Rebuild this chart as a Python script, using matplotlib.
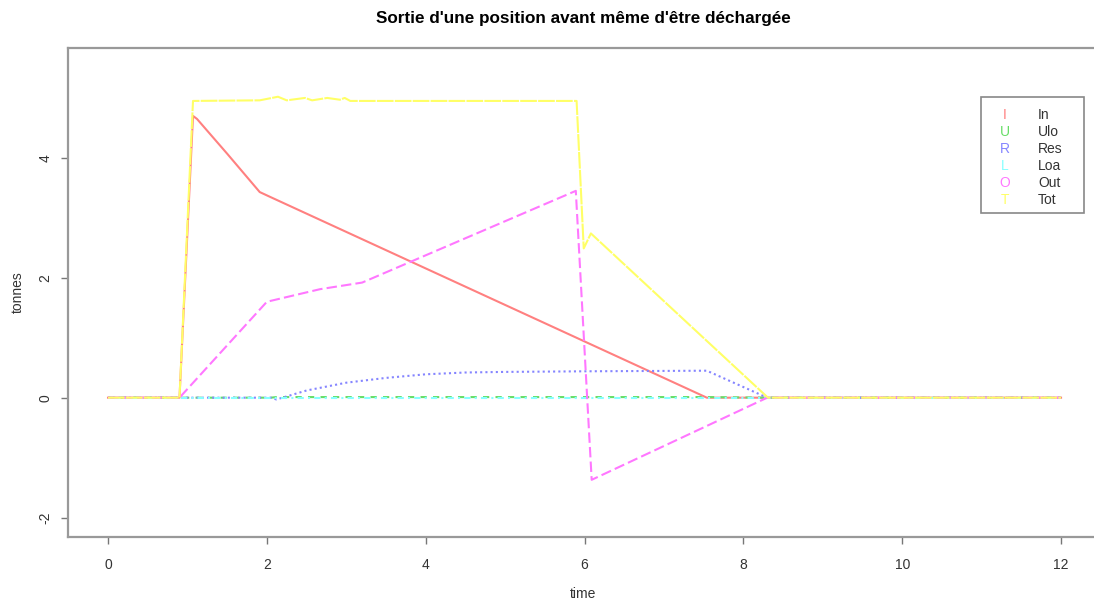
import matplotlib
matplotlib.use('Agg')
import matplotlib.pyplot as plt
from matplotlib.patches import Rectangle

plt.rcParams['font.family'] = ['Liberation Sans', 'DejaVu Sans']

# values (time, tonnes)
t_in = [0, 0.9, 1.07, 1.12, 1.5, 1.91, 2.04, 7.54, 12]
v_in = [0, 0, 4.70, 4.65, 4.07, 3.43, 3.35, 0, 0]

t_ulo = [0, 2.05, 2.12, 7.54, 8.3, 12]
v_ulo = [0, 0, 0.01, 0.01, 0, 0]

t_res = [0, 2.05, 2.12, 2.5, 3.0, 3.5, 4.0, 4.5, 5.0, 6.0, 7.54, 8.3, 12]
v_res = [0, 0, -0.03, 0.12, 0.25, 0.33, 0.39, 0.42, 0.43, 0.44, 0.45, 0, 0]

t_loa = [0, 12]
v_loa = [0, 0]

t_out = [0, 0.9, 2.0, 2.67, 3.2, 5.89, 6.09, 8.3, 12]
v_out = [0, 0, 1.6, 1.81, 1.92, 3.45, -1.37, 0, 0]

t_tot = [0, 0.9, 1.07, 1.91, 2.14, 2.25, 2.48, 2.57, 2.76, 2.92, 2.98, 3.05,
         5.9, 5.99, 6.08, 8.31, 12]
v_tot = [0, 0, 4.95, 4.96, 5.02, 4.96, 5.0, 4.96, 5.0, 4.97, 5.0, 4.95,
         4.95, 2.49, 2.74, 0, 0]

names = ['In', 'Ulo', 'Res', 'Loa', 'Out', 'Tot']
letters = ['I', 'U', 'R', 'L', 'O', 'T']
colors = ['#ff8080', '#66dd66', '#8585ff', '#88ffff', '#ff77ff', '#ffff66']
styles = ['-', (0, (3, 3)), (0, (1, 1.5)), (0, (1, 2, 3, 2)), (0, (5, 2)), (0, (8, 0.6))]
series = [(t_in, v_in), (t_ulo, v_ulo), (t_res, v_res),
          (t_loa, v_loa), (t_out, v_out), (t_tot, v_tot)]

W, H = 1094, 603
fig = plt.figure(figsize=(W / 100, H / 100), dpi=100)
ax = fig.add_axes([68 / W, 1 - 537 / H, (1099 - 68) / W, (537 - 48) / H])

for (t, v), c, ls in zip(series, colors, styles):
    ax.plot(t, v, color=c, linestyle=ls, linewidth=1.5)

ax.set_xlim(-0.504, 12.478)
ax.set_ylim(-2.324, 5.833)
ax.set_xticks(range(0, 13, 2))
ax.set_yticks([-2, 0, 2, 4])
ax.set_yticklabels(['-2', '0', '2', '4'], rotation=90, va='center')
ax.tick_params(colors='#777777', labelcolor='#333333', labelsize=10,
               length=5, width=1, direction='out')
ax.tick_params(axis='x', pad=10)
ax.tick_params(axis='y', pad=6)
for s in ax.spines.values():
    s.set_color('#999999')
    s.set_linewidth(1.6)

ax.set_xlabel('time', fontsize=10, color='#333333', labelpad=11)
ax.set_ylabel('tonnes', fontsize=10, color='#333333', labelpad=10)
fig.suptitle("Sortie d'une position avant même d'être déchargée",
             x=583 / W, y=1 - 18 / H, fontsize=12.3, fontweight='bold', va='center')

# legend box drawn R style
ax.add_patch(Rectangle((0.8855, 0.6626), 0.1, 0.2372, transform=ax.transAxes,
                       facecolor='white', edgecolor='#888888', linewidth=1.2, zorder=5))
for i, (lt, nm, c) in enumerate(zip(letters, names, colors)):
    y = 0.863 - i * 0.03476
    ax.text(0.9088, y, lt, color=c, fontsize=10, ha='center', va='center',
            transform=ax.transAxes, zorder=6)
    ax.text(0.9408, y, nm, color='#333333', fontsize=10, ha='left', va='center',
            transform=ax.transAxes, zorder=6)

fig.savefig('out.png', dpi=100)
